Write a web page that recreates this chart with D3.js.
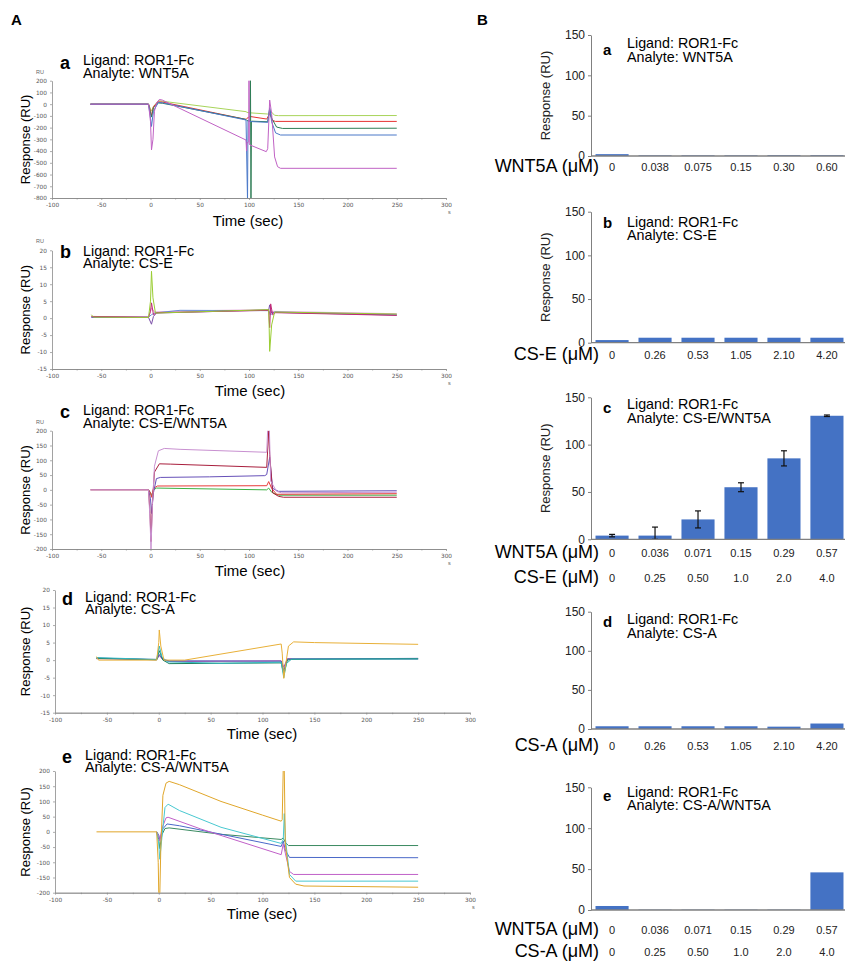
<!DOCTYPE html>
<html>
<head>
<meta charset="utf-8">
<script src="https://cdn.jsdelivr.net/npm/d3@7"></script>
<style>
  body { margin: 0; background: #fff; }
  text { font-family: "Liberation Sans", Arial, Helvetica, sans-serif; }
</style>
</head>
<body>
<div id="fig"></div>
<script>
// ---- sensorgram traces, [time (s), response (RU)] ----
const sensorA = [
    [[-61, 0], [-2, 0], [0, -40], [1, -60], [3, -20], [8, 30], [12, 25], [97, -64], [98, -70], [101, -74], [119, -84], [122, -60], [126, -95], [130, -98], [250, -97]],
    [[-61, 0], [-2, 0], [0, -60], [1, -100], [3, -20], [8, 20], [12, 18], [97, -130], [98, -120], [101, -105], [118, -127], [121, -80], [124, -140], [127, -147], [250, -147]],
    [[-61, 0], [-2, 0], [0, -80], [1, -110], [3, -30], [8, 10], [12, 8], [97, -130], [98, -140], [101, -145], [101.5, 220], [102, -820], [102.5, -145], [119, -150], [121, -40], [123, -120], [128, -195], [134, -207], [250, -205]],
    [[-61, 0], [-2, 0], [0, -120], [1, -190], [3, -60], [8, 15], [12, 12], [97, -135], [98.5, -820], [99, -140], [101, -148], [119, -155], [121, -30], [123, -150], [127, -245], [132, -263], [250, -263]],
    [[-61, 0], [-2, 0], [0, -150], [1, -390], [2.5, -300], [4, -60], [6, 10], [9, 40], [12, 35], [97, -306], [97.5, -400], [98, -330], [99.8, -320], [100, 220], [100.3, -340], [101, -348], [117.5, -405], [119, -380], [121, 35], [123, -80], [126, -450], [129, -533], [132, -547], [250, -547]]
];
const sensorB = [
    [[-60, 0.4], [-2, 0.2], [1, 3], [4, 1.8], [30, 2.1], [120, 2.5], [121, 1], [124, 2], [250, 1.3]],
    [[-60, 0.2], [-2, 0.3], [1, 1], [4, 1.5], [30, 2.3], [120, 2.2], [122, 1], [126, 1.8], [250, 1.0]],
    [[-60, 0.3], [-2, 0.2], [1, -1.8], [3, 0.5], [6, 1.5], [120, 2.4], [121, 3.9], [123, 1.5], [127, 1.7], [250, 0.9]],
    [[-60, 0.5], [-2, 0.3], [0, 2], [1, 4.5], [3, 1], [6, 1.6], [120, 2.3], [121, -2.8], [122, 4.2], [124, 1], [127, 1.6], [250, 0.8]],
    [[-60, 1], [-58, 0.3], [-2, 0.2], [0, 5], [1, 13.8], [2.5, 6], [5, 1.5], [120, 2.5], [120.5, -3], [121, -9.8], [123, -2], [126, 1.8], [250, 1.2]]
];
const sensorC = [
    [[-2, 0], [0, -10], [1, -20], [3, 0], [6, 6], [118, 0], [120, 6], [123, -8], [130, -18], [250, -18]],
    [[-2, 0], [0, -10], [1, -25], [3, 5], [7, 13], [118, 14], [120, 28], [123, 5], [128, -15], [250, -13]],
    [[-2, 0], [0, -30], [1, -80], [3, -10], [6, 38], [10, 42], [60, 44], [116, 48], [118, 52], [121, 110], [124, 5], [130, -5], [250, -3]],
    [[-61, 0], [-2, 0], [-0.5, -80], [0.5, -175], [2, -40], [4, 60], [9, 88], [20, 87], [118, 76], [120, 200], [121, 120], [124, -10], [130, -22], [135, -25], [250, -25]],
    [[-61, 0], [-2, 0], [-0.5, -100], [0.5, -200], [2, -50], [4, 80], [8, 132], [14, 140], [30, 137], [118, 127], [119.5, 250], [120.5, 230], [122, 30], [128, -5], [133, -10], [250, -8]]
];
const sensorD = [
    [[-60, 0.4], [-2, 0.2], [0.5, 1.3], [4, 0.1], [10, -0.4], [118, -0.2], [120.5, -2], [124, 0.4], [250, 0.3]],
    [[-60, 0.6], [-2, 0.1], [0.5, 1.6], [4, 0.2], [10, -0.2], [118, -0.3], [120.5, -3], [124, 0.3], [250, 0.5]],
    [[-60, 0.5], [-2, 0.1], [0.5, 2.7], [4, 0], [10, -1], [118, -0.8], [120.5, -4], [124, 0], [128, 0.2], [250, 0.4]],
    [[-60, 0.7], [-2, 0.2], [0.5, 4], [3, 1], [8, -0.5], [60, -0.9], [118, -0.6], [120.5, -5], [123, -1], [128, 0.3], [250, 0.3]],
    [[-60, 1], [-58, 0], [-2, 0], [0, 5], [0.5, 8.6], [2, 4], [5, 0], [25, 0], [118, 4.6], [119, 2], [120.5, -5.2], [122, -2], [125, 4], [130, 5.2], [150, 5], [250, 4.5]]
];
const sensorE = [
    [[-2, 0], [0, -25], [1, -55], [3, -10], [6, 11], [10, 13], [60, -8], [118, -25], [120, -20], [122, -35], [125, -45], [250, -45]],
    [[-2, 0], [0, -10], [1, -25], [4, 10], [8, 26], [20, 20], [118, -48], [120, -30], [122, -60], [126, -84], [250, -85]],
    [[-2, 0], [0, -15], [1, -30], [3, 10], [7, 46], [9, 48], [40, 10], [118, -75], [120, -40], [122, -70], [126, -130], [130, -140], [250, -140]],
    [[-2, 0], [0, -40], [1, -90], [3, -20], [6, 80], [9, 91], [20, 70], [60, 15], [118, -38], [120, -25], [121, 60], [122, -20], [126, -140], [132, -162], [250, -162]],
    [[-60, 0], [-2, 0], [-0.5, -100], [0, -200], [1, -210], [2, -50], [4, 120], [7, 160], [10, 166], [20, 155], [60, 100], [100, 55], [118, 35], [119, 40], [120, 210], [121, 200], [122, -40], [126, -150], [132, -172], [140, -178], [250, -182]]
];

// ---- bar charts (B) ----
const wnt5aConcA = ["0", "0.038", "0.075", "0.15", "0.30", "0.60"];
const csEConc = ["0", "0.26", "0.53", "1.05", "2.10", "4.20"];
const wnt5aConcMix = ["0", "0.036", "0.071", "0.15", "0.29", "0.57"];
const csConcMix = ["0", "0.25", "0.50", "1.0", "2.0", "4.0"];
const csAConc = ["0", "0.26", "0.53", "1.05", "2.10", "4.20"];
const yTicksB = [0, 50, 100, 150];

const barA = [2.3, 0.8, 0.8, 0.8, 1.0, 1.0];
const barB = [3.0, 5.7, 5.7, 5.7, 5.7, 5.7];
const barC = [3.9, 3.9, 21, 55, 85.5, 130.5];
const barCErr = [1.3, 9, 9, 4.7, 8, 0.8];
const barD = [3.5, 3.5, 3.5, 3.5, 3.0, 7.0];
const barE = [4.9, 0.4, 0.4, 0.4, 0.4, 46];

const width = 845;
const height = 961;

const svg = d3.select("#fig").append("svg")
    .attr("width", width)
    .attr("height", height)
    .style("background", "#fff");

svg.append("text").attr("x", 11).attr("y", 25).attr("font-size", 15).attr("font-weight", "bold").text("A");
svg.append("text").attr("x", 477).attr("y", 25).attr("font-size", 15).attr("font-weight", "bold").text("B");

// layout of the five sensorgram panels
const sensorPanels = [
    { letter: "a", analyte: "WNT5A", data: sensorA, colors: ["#a8d45a", "#e63232", "#2f7d56", "#4a78c8", "#c062c4"],
      x0: 52, x1: 446, top: 80.7, bottom: 198, dom: [-800, 200], step: 100, titleY: 65, letterY: 69, textX: 83, timeX: 248, timeY: 226, ru: true, s: true },
    { letter: "b", analyte: "CS-E", data: sensorB, colors: ["#e0a0d8", "#6a90d8", "#7b4ea8", "#c02a78", "#9acd32"],
      x0: 52, x1: 446, top: 250.3, bottom: 369, dom: [-15, 20], step: 5, titleY: 255.7, letterY: 258.3, textX: 83, timeX: 250, timeY: 395.7, ru: true, s: true },
    { letter: "c", analyte: "CS-E/WNT5A", data: sensorC, colors: ["#3cb043", "#e83a3a", "#6650b8", "#a81e3c", "#c890d0"],
      x0: 52, x1: 446, top: 430.7, bottom: 549, dom: [-200, 200], step: 50, titleY: 415, letterY: 418.3, textX: 83, timeX: 250, timeY: 576, ru: true, s: true },
    { letter: "d", analyte: "CS-A", data: sensorD, colors: ["#b050b0", "#5050b0", "#1f8060", "#30b8c0", "#e8b038"],
      x0: 55, x1: 470, top: 590, bottom: 712.7, dom: [-15, 20], step: 5, titleY: 601.7, letterY: 605, textX: 85, timeX: 262, timeY: 739.3, ru: false, s: false },
    { letter: "e", analyte: "CS-A/WNT5A", data: sensorE, colors: ["#3a8a60", "#4a68c8", "#c060c8", "#48c8d0", "#e0a62a"],
      x0: 55, x1: 470, top: 771, bottom: 892.7, dom: [-200, 200], step: 50, titleY: 759.6, letterY: 763.3, textX: 85, timeX: 262, timeY: 919.3, ru: false, s: true }
];

sensorPanels.forEach((p, i) => drawSensor(p, i));

function drawSensor(p, i) {
    const x = d3.scaleLinear().domain([-100, 300]).range([p.x0, p.x1]);
    const y = d3.scaleLinear().domain(p.dom).range([p.bottom, p.top]);
    const g = svg.append("g");

    svg.append("clipPath").attr("id", "clip" + i)
        .append("rect")
        .attr("x", p.x0).attr("y", p.top)
        .attr("width", p.x1 - p.x0).attr("height", p.bottom - p.top);

    const yAxis = d3.axisLeft(y)
        .tickValues(d3.range(p.dom[0], p.dom[1] + 0.001, p.step))
        .tickSize(2).tickSizeOuter(0)
        .tickFormat(d => String(d));
    g.append("g").attr("transform", `translate(${p.x0},0)`).call(yAxis);

    const xAxis = d3.axisBottom(x)
        .tickValues(d3.range(-100, 301, 50))
        .tickSize(2).tickSizeOuter(0)
        .tickFormat(d => String(d));
    g.append("g").attr("transform", `translate(0,${p.bottom})`).call(xAxis);

    // minor ticks between the labelled ones
    g.append("g").attr("transform", `translate(0,${p.bottom})`)
        .call(d3.axisBottom(x).tickValues(d3.range(-75, 300, 50)).tickSize(1.5).tickSizeOuter(0).tickFormat(""));

    g.selectAll(".domain").attr("stroke", "#8a8a8a").attr("stroke-width", 0.8);
    g.selectAll(".tick line").attr("stroke", "#8a8a8a").attr("stroke-width", 0.7);
    g.selectAll(".tick text").attr("font-size", 5.8).attr("fill", "#555")
        .style("font-family", '"DejaVu Sans", sans-serif');

    if (p.ru) {
        g.append("text").attr("x", p.x0 - 16).attr("y", p.top - 7)
            .attr("font-size", 5.5).attr("fill", "#666").text("RU");
    }
    if (p.s) {
        g.append("text").attr("x", p.x1 + 2).attr("y", p.bottom + 16)
            .attr("font-size", 5.5).attr("fill", "#666").text("s");
    }

    const line = d3.line().x(d => x(d[0])).y(d => y(d[1]));
    g.append("g").attr("clip-path", `url(#clip${i})`)
        .selectAll("path")
        .data(p.data)
        .enter().append("path")
        .attr("d", line)
        .attr("fill", "none")
        .attr("stroke", (d, k) => p.colors[k])
        .attr("stroke-width", 1);

    g.append("text").attr("x", p.textX - 23).attr("y", p.letterY)
        .attr("font-size", 18).attr("font-weight", "bold").text(p.letter);
    g.append("text").attr("x", p.textX).attr("y", p.titleY)
        .attr("font-size", 14.3).text("Ligand: ROR1-Fc");
    g.append("text").attr("x", p.textX).attr("y", p.titleY + 12.7)
        .attr("font-size", 14.3).text("Analyte: " + p.analyte);

    g.append("text")
        .attr("transform", `translate(30,${(p.top + p.bottom) / 2}) rotate(-90)`)
        .attr("text-anchor", "middle")
        .attr("font-size", 13).text("Response (RU)");
    g.append("text").attr("x", p.timeX).attr("y", p.timeY)
        .attr("text-anchor", "middle").attr("font-size", 15).text("Time (sec)");
}

// layout of the five bar panels
const barPanels = [
    { letter: "a", analyte: "WNT5A", values: barA, err: null, top: 35, bottom: 156, titleY: 48.3, letterY: 55,
      rows: [["WNT5A (\u03bcM)", wnt5aConcA]], rowY: [171.7], ylabel: true },
    { letter: "b", analyte: "CS-E", values: barB, err: null, top: 211.7, bottom: 342.7, titleY: 226.7, letterY: 228.3,
      rows: [["CS-E (\u03bcM)", csEConc]], rowY: [359.5], ylabel: true },
    { letter: "c", analyte: "CS-E/WNT5A", values: barC, err: barCErr, top: 397.3, bottom: 539.3, titleY: 409, letterY: 412.7,
      rows: [["WNT5A (\u03bcM)", wnt5aConcMix], ["CS-E (\u03bcM)", csConcMix]], rowY: [558.3, 583.3], ylabel: true },
    { letter: "d", analyte: "CS-A", values: barD, err: null, top: 611.7, bottom: 729, titleY: 624.3, letterY: 626.7,
      rows: [["CS-A (\u03bcM)", csAConc]], rowY: [750.5], ylabel: false },
    { letter: "e", analyte: "CS-A/WNT5A", values: barE, err: null, top: 787.3, bottom: 910, titleY: 796.7, letterY: 800.7,
      rows: [["WNT5A (\u03bcM)", wnt5aConcMix], ["CS-A (\u03bcM)", csConcMix]], rowY: [935, 957], ylabel: false }
];

barPanels.forEach(p => drawBars(p));

function drawBars(p) {
    const axisX = 591;
    const x = d3.scaleBand()
        .domain(d3.range(p.values.length))
        .range([axisX, 848])
        .paddingInner(0.23)
        .paddingOuter(0.105);
    const y = d3.scaleLinear().domain([0, 150]).range([p.bottom, p.top]);
    const g = svg.append("g");

    g.selectAll("rect")
        .data(p.values)
        .enter().append("rect")
        .attr("x", (d, i) => x(i))
        .attr("y", d => y(d))
        .attr("width", x.bandwidth())
        .attr("height", d => y(0) - y(d))
        .attr("fill", "#4472c4");

    if (p.err) {
        const eb = g.selectAll(".err")
            .data(p.values.map((v, i) => ({ i, lo: Math.max(0, v - p.err[i]), hi: v + p.err[i] })))
            .enter().append("g");
        eb.append("line")
            .attr("x1", d => x(d.i) + x.bandwidth() / 2).attr("x2", d => x(d.i) + x.bandwidth() / 2)
            .attr("y1", d => y(d.lo)).attr("y2", d => y(d.hi));
        eb.append("line")
            .attr("x1", d => x(d.i) + x.bandwidth() / 2 - 3).attr("x2", d => x(d.i) + x.bandwidth() / 2 + 3)
            .attr("y1", d => y(d.hi)).attr("y2", d => y(d.hi));
        eb.append("line")
            .attr("x1", d => x(d.i) + x.bandwidth() / 2 - 3).attr("x2", d => x(d.i) + x.bandwidth() / 2 + 3)
            .attr("y1", d => y(d.lo)).attr("y2", d => y(d.lo));
        eb.selectAll("line").attr("stroke", "#111").attr("stroke-width", 1.2);
    }

    const yAxis = d3.axisLeft(y).tickValues(yTicksB).tickSize(3).tickSizeOuter(0);
    const ya = g.append("g").attr("transform", `translate(${axisX},0)`).call(yAxis);
    ya.selectAll(".tick text").attr("font-size", 12).attr("fill", "#222");
    ya.select(".domain").attr("stroke", "#808080");
    ya.selectAll(".tick line").attr("stroke", "#808080");

    g.append("line")
        .attr("x1", axisX).attr("x2", width)
        .attr("y1", y(0)).attr("y2", y(0))
        .attr("stroke", "#808080").attr("stroke-width", 1.3);

    p.rows.forEach((row, r) => {
        g.append("text").attr("x", 599).attr("y", p.rowY[r])
            .attr("text-anchor", "end").attr("font-size", 18).text(row[0]);
        g.selectAll(".cat" + r)
            .data(row[1])
            .enter().append("text")
            .attr("x", (d, i) => x(i) + x.bandwidth() / 2)
            .attr("y", p.rowY[r] - 1)
            .attr("text-anchor", "middle")
            .attr("font-size", 11)
            .attr("fill", "#222")
            .text(d => d);
    });

    if (p.ylabel) {
        g.append("text")
            .attr("transform", `translate(550,${(p.top + p.bottom) / 2}) rotate(-90)`)
            .attr("text-anchor", "middle")
            .attr("font-size", 13).attr("fill", "#222").text("Response (RU)");
    }

    g.append("text").attr("x", 603).attr("y", p.letterY)
        .attr("font-size", 15).attr("font-weight", "bold").text(p.letter);
    g.append("text").attr("x", 627).attr("y", p.titleY)
        .attr("font-size", 14.3).text("Ligand: ROR1-Fc");
    g.append("text").attr("x", 627).attr("y", p.titleY + 13.5)
        .attr("font-size", 14.3).text("Analyte: " + p.analyte);
}
</script>
</body>
</html>
